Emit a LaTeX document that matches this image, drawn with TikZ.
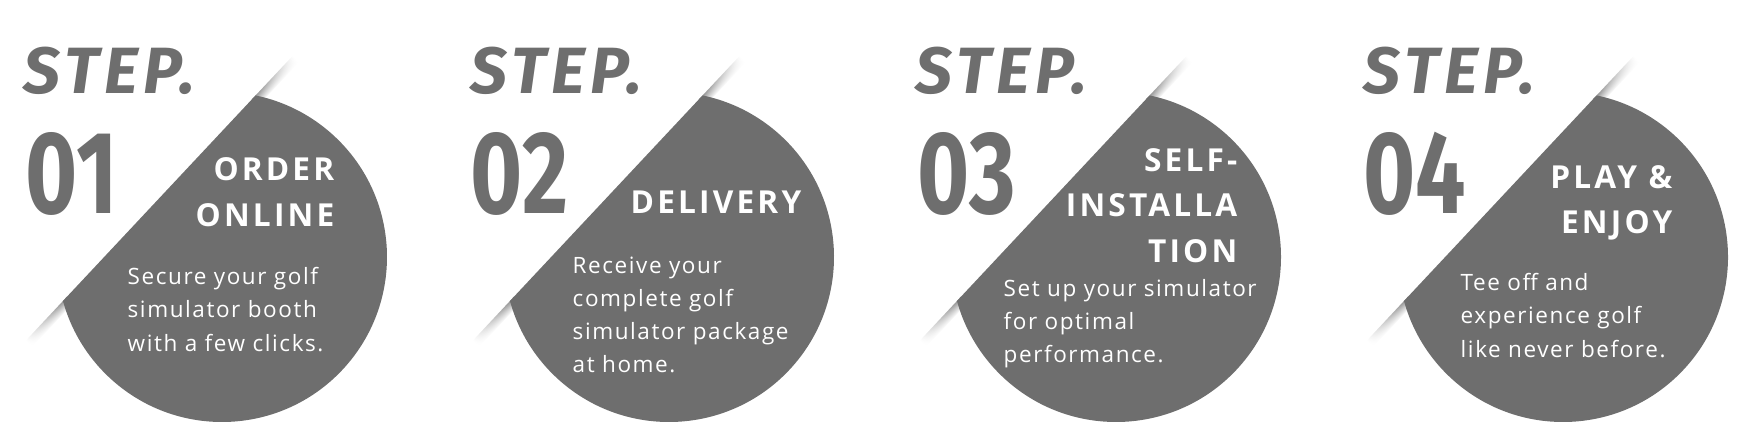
\documentclass[tikz,border=0pt]{standalone}
\usepackage{fontspec}
\setmainfont{Open Sans}
\newfontfamily\stepfont{Fira Sans}[LetterSpace=8]
\newfontfamily\numfont{Fira Sans}
\newfontfamily\headfont{Open Sans}[LetterSpace=10]
\newfontfamily\blurbfont{Open Sans}[LetterSpace=7]
\usetikzlibrary{fadings}

\definecolor{discgray}{RGB}{110,110,110}
\tikzfading[name=fold fade,top color=transparent!0,bottom color=transparent!100]

\tikzset{
  steptag/.style={anchor=base west,inner sep=0pt,text=discgray,font=\stepfont\fontsize{18.6}{20}\selectfont\bfseries\itshape},
  stepnum/.style={anchor=base west,inner sep=0pt,text=discgray,font=\numfont\fontsize{33.4}{36}\selectfont\bfseries},
  stephead/.style={anchor=north east,inner sep=0pt,align=right,text=white,font=\headfont\fontsize{9}{12.9}\selectfont\bfseries},
  stepbody/.style={anchor=north west,inner sep=0pt,align=left,text=white,font=\blurbfont\fontsize{6.4}{9.4}\selectfont},
  disc/.style={fill=discgray},
  foldin/.style={left color=white,right color=black!45,path fading=fold fade},
  foldout/.style={left color=black!45,right color=white,path fading=fold fade},
}

\begin{document}
\begin{tikzpicture}[x=0.01cm,y=-0.01cm]
			\useasboundingbox (0,0) rectangle (1743,439);
			
			\begin{scope}[transform canvas={shift={(222,257)},rotate=46.86}]
				\shade[foldin] (-195,-86) rectangle (-135,-77);
				\shade[foldout] (135,-86) rectangle (195,-77);
				\clip (-200,-86) rectangle (200,200);
				\fill[disc] (0,0) circle (165);
			\end{scope}
			\node[steptag] (tag1) at (23,93) {STEP.};
			\node[stepnum] (num1) at (25,213) {\scalebox{0.76}[1]{01}};
			\node[stephead] (head1) at (335,157) {ORDER\\ONLINE};
			\node[stepbody] (body1) at (127,267) {Secure your golf\\simulator booth\\with a few clicks.};
			
			\begin{scope}[transform canvas={shift={(669,257)},rotate=46.86}]
				\shade[foldin] (-195,-86) rectangle (-135,-77);
				\shade[foldout] (135,-86) rectangle (195,-77);
				\clip (-200,-86) rectangle (200,200);
				\fill[disc] (0,0) circle (165);
			\end{scope}
			\node[steptag] (tag2) at (470,93) {STEP.};
			\node[stepnum] (num2) at (470,213) {\scalebox{0.76}[1]{02}};
			\node[stephead] (head2) at (802,190) {DELIVERY};
			\node[stepbody] (body2) at (572,256) {Receive your\\complete golf\\simulator package\\at home.};
			
			\begin{scope}[transform canvas={shift={(1116,257)},rotate=46.86}]
				\shade[foldin] (-195,-86) rectangle (-135,-77);
				\shade[foldout] (135,-86) rectangle (195,-77);
				\clip (-200,-86) rectangle (200,200);
				\fill[disc] (0,0) circle (165);
			\end{scope}
			\node[steptag] (tag3) at (915,93) {STEP.};
			\node[stepnum] (num3) at (917,213) {\scalebox{0.76}[1]{03}};
			\node[stephead] (head3) at (1238,148) {SELF-\\INSTALLA\\TION};
			\node[stepbody] (body3) at (1003,279) {Set up your simulator\\for optimal\\performance.};
			
			\begin{scope}[transform canvas={shift={(1563,257)},rotate=46.86}]
				\shade[foldin] (-195,-86) rectangle (-135,-77);
				\shade[foldout] (135,-86) rectangle (195,-77);
				\clip (-200,-86) rectangle (200,200);
				\fill[disc] (0,0) circle (165);
			\end{scope}
			\node[steptag] (tag4) at (1363,93) {STEP.};
			\node[stepnum] (num4) at (1363,213) {\scalebox{0.76}[1]{04}};
			\node[stephead] (head4) at (1673,165) {PLAY \&\\ENJOY};
			\node[stepbody] (body4) at (1460,273) {Tee off and\\experience golf\\like never before.};
\end{tikzpicture}
\end{document}
